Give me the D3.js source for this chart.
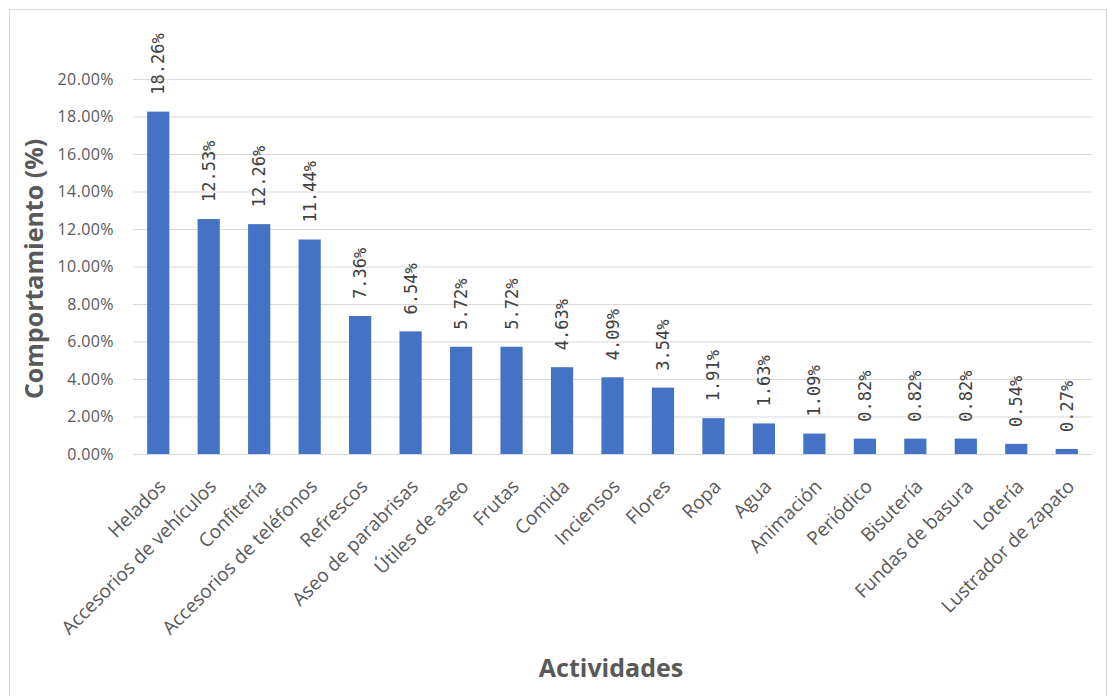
<!DOCTYPE html>
<html>
<head>
<meta charset="utf-8">
<script src="https://cdn.jsdelivr.net/npm/d3@7"></script>
<style>
  body { margin: 0; background: #fff; }
  svg { display: block; }
</style>
</head>
<body>
<svg></svg>
<script>
// Comportamiento por actividad
const categories = ['Helados', 'Accesorios de vehículos', 'Confitería', 'Accesorios de teléfonos',
    'Refrescos', 'Aseo de parabrisas', 'Útiles de aseo', 'Frutas', 'Comida', 'Inciensos', 'Flores',
    'Ropa', 'Agua', 'Animación', 'Periódico', 'Bisutería', 'Fundas de basura', 'Lotería',
    'Lustrador de zapato'];
const values = [18.26, 12.53, 12.26, 11.44, 7.36, 6.54, 5.72, 5.72, 4.63, 4.09, 3.54,
    1.91, 1.63, 1.09, 0.82, 0.82, 0.82, 0.54, 0.27];
const yTicks = [0, 2, 4, 6, 8, 10, 12, 14, 16, 18, 20];
const yTitle = 'Comportamiento (%)';
const xTitle = 'Actividades';

const width = 1114;
const height = 696;
const margin = { top: 79, right: 22, bottom: 242, left: 133 };
const innerW = width - margin.left - margin.right;
const innerH = height - margin.top - margin.bottom;
const data = categories.map((c, i) => ({ cat: c, val: values[i] }));
const font = '"Open Sans", sans-serif';

const svg = d3.select('svg')
    .attr('width', width)
    .attr('height', height);

// chart frame
svg.append('rect')
    .attr('x', 9.5)
    .attr('y', 9.5)
    .attr('width', 1097)
    .attr('height', 700)
    .style('fill', 'none')
    .style('stroke', '#d9d9d9');

const g = svg.append('g').attr('transform', `translate(${margin.left},${margin.top})`);

const x = d3.scaleBand()
    .domain(categories)
    .range([0, innerW])
    .paddingInner(0.56)
    .paddingOuter(0.28);

const y = d3.scaleLinear()
    .domain([0, 20])
    .range([innerH, 0]);

// gridlines + y labels
const yAxis = g.append('g')
    .call(d3.axisLeft(y).tickValues(yTicks).tickSize(-innerW).tickPadding(19)
        .tickFormat((d) => d.toFixed(2) + '%'));
yAxis.select('.domain').remove();
yAxis.selectAll('line').style('stroke', '#d9d9d9');
yAxis.selectAll('text')
    .style('font-family', font)
    .style('font-size', '16px')
    .style('letter-spacing', '0.4px')
    .style('fill', '#595959');

g.selectAll('rect.bar')
    .data(data)
    .enter()
    .append('rect')
    .attr('class', 'bar')
    .attr('x', (d) => x(d.cat))
    .attr('y', (d) => y(d.val))
    .attr('width', x.bandwidth())
    .attr('height', (d) => innerH - y(d.val))
    .style('fill', '#4472c4');

// data labels, rotated
g.selectAll('text.lbl')
    .data(data)
    .enter()
    .append('text')
    .attr('class', 'lbl')
    .attr('transform', (d) => `translate(${x(d.cat) + x.bandwidth() / 2 + 6},${y(d.val) - 17}) rotate(-90)`)
    .style('font-family', '"DejaVu Sans Mono", monospace')
    .style('font-size', '17px')
    .style('fill', '#404040')
    .text((d) => d.val.toFixed(2) + '%');

// category labels
const xAxis = g.append('g')
    .attr('transform', `translate(0,${innerH})`)
    .call(d3.axisBottom(x).tickSize(0).tickPadding(0));
xAxis.select('.domain').remove();
xAxis.selectAll('text')
    .attr('transform', 'translate(4,29) rotate(-45)')
    .attr('dy', '0.35em')
    .style('text-anchor', 'end')
    .style('font-family', font)
    .style('font-size', '19px')
    .style('fill', '#595959');

// axis titles
svg.append('text')
    .attr('transform', `translate(43,269) rotate(-90)`)
    .style('text-anchor', 'middle')
    .style('font-family', font)
    .style('font-size', '25px')
    .style('font-weight', 'bold')
    .style('fill', '#595959')
    .text(yTitle);

svg.append('text')
    .attr('x', 611)
    .attr('y', 677)
    .style('text-anchor', 'middle')
    .style('font-family', font)
    .style('font-size', '25px')
    .style('font-weight', 'bold')
    .style('fill', '#595959')
    .text(xTitle);
</script>
</body>
</html>
